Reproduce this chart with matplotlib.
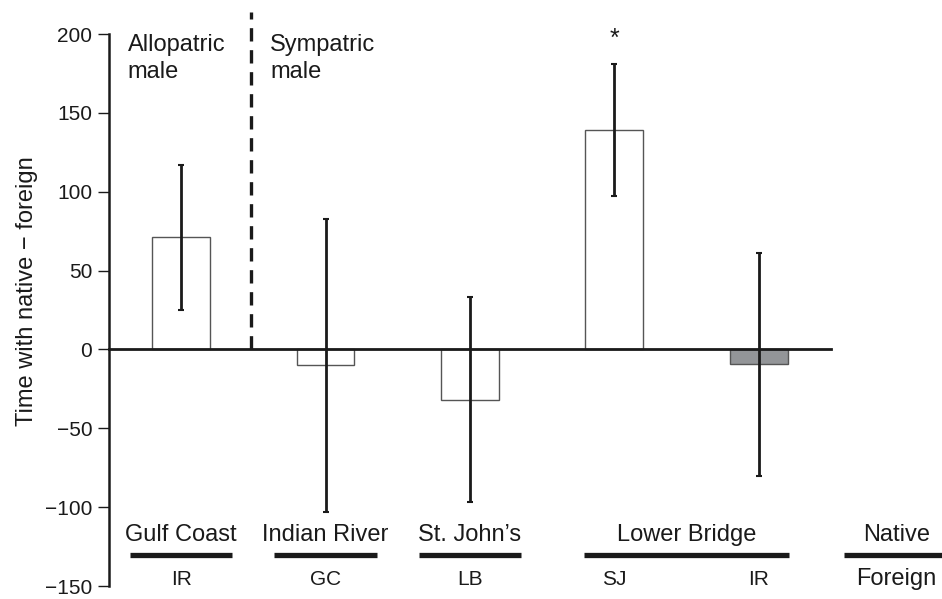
import matplotlib
matplotlib.use("Agg")
import matplotlib.pyplot as plt

plt.rcParams['font.family'] = ['Liberation Sans', 'DejaVu Sans']

# data
natives = ["Gulf Coast", "Indian River", "St. John\u2019s", "Lower Bridge", "Lower Bridge"]
foreigns = ["IR", "GC", "LB", "SJ", "IR"]
means = [71, -10, -32, 139, -9.5]
errs = [46, 93, 65, 42, 70.5]
fills = ["white", "white", "white", "white", "#939598"]
yticks = [-150, -100, -50, 0, 50, 100, 150, 200]

pos = list(range(len(means)))

fig = plt.figure(figsize=(9.42, 5.99), dpi=100)
ax = fig.add_axes([109/942, 13/599, 833/942, 552/599])

ax.bar(pos, means, width=0.4, color=fills, edgecolor="#555555", linewidth=1.0, zorder=2)
ax.errorbar(pos, means, yerr=errs, fmt="none", ecolor="#1a1a1a", elinewidth=2.0,
            capsize=2.5, capthick=1.5, zorder=3)

ax.set_xlim(-0.5, 5.27)
ax.set_ylim(-150, 200)
ax.set_yticks(yticks)
ax.set_xticks([])
for s in ["top", "right", "bottom"]:
    ax.spines[s].set_visible(False)
ax.spines["left"].set_linewidth(1.8)
ax.spines["left"].set_color("#1a1a1a")
ax.tick_params(axis="y", labelsize=15, length=8, width=1.0, direction="out", colors="#1a1a1a",
               pad=4)

# zero line
ax.plot([-0.5, 4.5], [0, 0], color="#1a1a1a", lw=2.0, zorder=4, clip_on=False)

# allopatric / sympatric divider
ax.plot([0.485, 0.485], [0, 214], color="#1a1a1a", lw=2.4, ls=(0, (4, 2.6)),
        clip_on=False, zorder=1)
ax.text(-0.37, 200, "Allopatric\nmale", fontsize=17, ha="left", va="top",
        linespacing=1.28, color="#1a1a1a")
ax.text(0.615, 200, "Sympatric\nmale", fontsize=17, ha="left", va="top",
        linespacing=1.28, color="#1a1a1a")

# significance
ax.text(pos[3], 197, "*", fontsize=18, ha="center", va="center", color="#1a1a1a")

ax.text(-0.098, 0.534, "Time with native \u2212 foreign", transform=ax.transAxes,
        rotation=90, ha="center", va="center", fontsize=17, color="#1a1a1a")

# native / foreign labels below
groups = [("Gulf Coast", [0], 0.355), ("Indian River", [1], 0.355),
          ("St. John\u2019s", [2], 0.355), ("Lower Bridge", [3, 4], 0.21)]
for name, idx, half in groups:
    lo = pos[idx[0]] - half
    hi = pos[idx[-1]] + half
    ax.plot([lo, hi], [-130.5, -130.5], color="#1a1a1a", lw=3.8, solid_capstyle="butt",
            clip_on=False)
    ax.text((pos[idx[0]] + pos[idx[-1]]) / 2, -121.5, name, fontsize=17, ha="center",
            va="baseline", color="#1a1a1a")
for p, f in zip(pos, foreigns):
    ax.text(p, -149.5, f, fontsize=15, ha="center", va="baseline", color="#1a1a1a")

ax.plot([4.59, 5.33], [-130.5, -130.5], color="#1a1a1a", lw=3.8, solid_capstyle="butt",
        clip_on=False)
ax.text(4.955, -121.5, "Native", fontsize=17, ha="center", va="baseline", color="#1a1a1a")
ax.text(4.955, -149.5, "Foreign", fontsize=17, ha="center", va="baseline", color="#1a1a1a")

fig.savefig("out.png", dpi=100, facecolor="white")
